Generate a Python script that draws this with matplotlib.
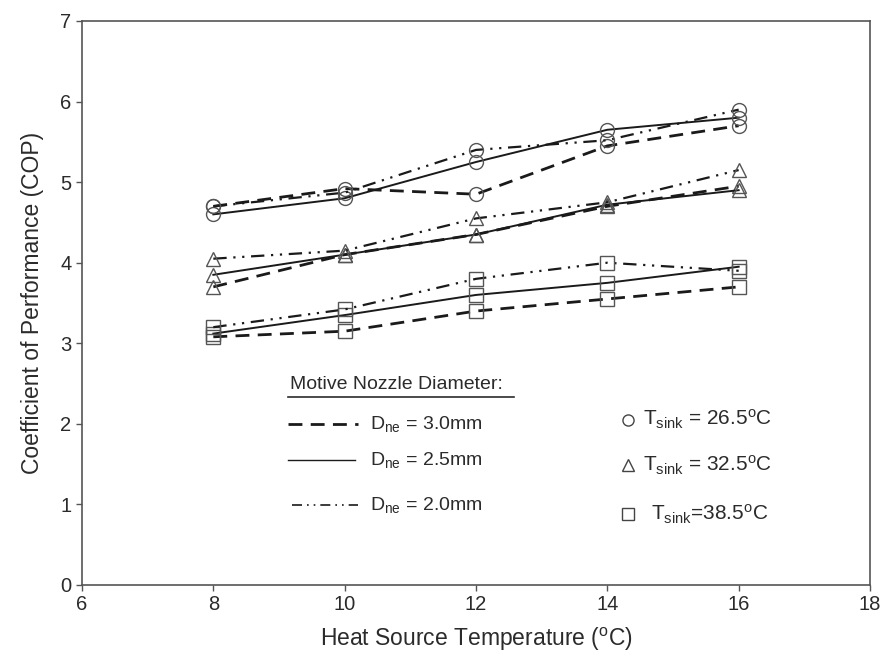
import matplotlib
matplotlib.use('Agg')
import matplotlib.pyplot as plt

# font setup, Arial-like look
plt.rcParams['font.family'] = ['Liberation Sans', 'DejaVu Sans']
plt.rcParams['mathtext.fontset'] = 'custom'
plt.rcParams['mathtext.rm'] = 'Liberation Sans'
plt.rcParams['mathtext.it'] = 'Liberation Sans'

# heat source temperatures (oC)
temps = [8, 10, 12, 14, 16]

# COP readings, Tsink = 26.5 oC
cop_265_d30 = [4.70, 4.92, 4.85, 5.45, 5.70]
cop_265_d25 = [4.60, 4.80, 5.25, 5.65, 5.80]
cop_265_d20 = [4.70, 4.87, 5.40, 5.52, 5.90]

# COP readings, Tsink = 32.5 oC
cop_325_d30 = [3.70, 4.10, 4.35, 4.70, 4.95]
cop_325_d25 = [3.85, 4.10, 4.35, 4.72, 4.90]
cop_325_d20 = [4.05, 4.15, 4.55, 4.75, 5.15]

# COP readings, Tsink = 38.5 oC
cop_385_d30 = [3.08, 3.15, 3.40, 3.55, 3.70]
cop_385_d25 = [3.12, 3.35, 3.60, 3.75, 3.95]
cop_385_d20 = [3.20, 3.42, 3.80, 4.00, 3.90]

x_ticks = [6, 8, 10, 12, 14, 16, 18]
y_ticks = [0, 1, 2, 3, 4, 5, 6, 7]

nozzle_labels = [r'D$_{\mathregular{ne}}$ = 3.0mm',
                 r'D$_{\mathregular{ne}}$ = 2.5mm',
                 r'D$_{\mathregular{ne}}$ = 2.0mm']
sink_labels = [r'T$_{\mathregular{sink}}$ = 26.5$^{\mathregular{o}}$C',
               r'T$_{\mathregular{sink}}$ = 32.5$^{\mathregular{o}}$C',
               r'T$_{\mathregular{sink}}$=38.5$^{\mathregular{o}}$C']

txt = '#2b2b2b'
line_col = '#1a1a1a'
mk_col = '#555555'

dashed = (0, (5, 3))
dashdot = (0, (6, 3, 1, 3, 1, 3))

fig = plt.figure(figsize=(8.85, 6.58), dpi=100)
ax = fig.add_axes([82 / 885, 73 / 658, 788 / 885, 564 / 658])

groups = [
    ('o', cop_265_d30, cop_265_d25, cop_265_d20),
    ('^', cop_325_d30, cop_325_d25, cop_325_d20),
    ('s', cop_385_d30, cop_385_d25, cop_385_d20),
]

for mk, d30, d25, d20 in groups:
    ms = 10 if mk != 's' else 10.5
    ax.plot(temps, d30, color=line_col, lw=2.0, linestyle=dashed, marker=mk,
            ms=ms, mfc='none', mec=mk_col, mew=1.0)
    ax.plot(temps, d25, color=line_col, lw=1.4, linestyle='-', marker=mk,
            ms=ms, mfc='none', mec=mk_col, mew=1.0)
    ax.plot(temps, d20, color=line_col, lw=1.6, linestyle=dashdot, marker=mk,
            ms=ms, mfc='none', mec=mk_col, mew=1.0)

ax.set_xlim(6, 18)
ax.set_ylim(0, 7)
ax.set_xticks(x_ticks)
ax.set_yticks(y_ticks)
ax.tick_params(direction='out', length=4, width=1, color='#555555',
               labelsize=14.5, labelcolor=txt, top=False, right=False)
for s in ax.spines.values():
    s.set_color('#555555')
    s.set_linewidth(1.2)

ax.set_xlabel(r'Heat Source Temperature ($^{\mathregular{o}}$C)', fontsize=16.5,
              color=txt, labelpad=8)
ax.set_ylabel('Coefficient of Performance (COP)', fontsize=16.5, color=txt,
              labelpad=12)

# hand drawn legend: nozzle diameters
tr = ax.transAxes
ax.text(0.264, 0.355, 'Motive Nozzle Diameter:', transform=tr, fontsize=14,
        color=txt, va='center', ha='left')
ax.plot([0.262, 0.548], [0.333, 0.333], transform=tr, color=txt, lw=1.2)

leg_y = [0.285, 0.222, 0.142]
leg_styles = [(dashed, 2.0), ('-', 1.0), (dashdot, 1.2)]
leg_x = [(0.262, 0.350), (0.262, 0.347), (0.267, 0.350)]
for yy, (ls, lw), (x0, x1), lab in zip(leg_y, leg_styles, leg_x, nozzle_labels):
    ax.plot([x0, x1], [yy, yy], transform=tr, color=line_col, lw=lw, linestyle=ls)
    ax.text(0.366, yy, lab, transform=tr, fontsize=14, color=txt,
            va='center', ha='left')

# hand drawn legend: sink temperatures
sink_y = [0.293, 0.213, 0.126]
sink_mk = ['o', '^', 's']
sink_tx = [0.712, 0.712, 0.722]
for yy, mk, tx, lab in zip(sink_y, sink_mk, sink_tx, sink_labels):
    ax.plot([0.693], [yy], transform=tr, marker=mk, ms=8, mfc='none',
            mec='#444444', mew=1.0, linestyle='none')
    ax.text(tx, yy, lab, transform=tr, fontsize=15, color=txt,
            va='center', ha='left')

fig.savefig('out.png', dpi=100)
